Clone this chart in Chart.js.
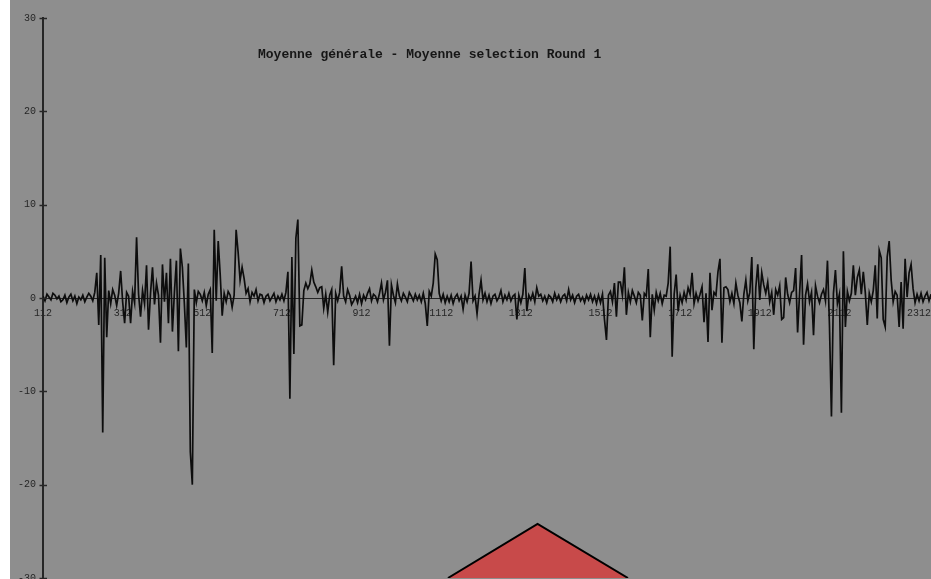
<!DOCTYPE html>
<html>
<head>
<meta charset="utf-8">
<script src="https://cdn.jsdelivr.net/npm/chart.js@4.4.1/dist/chart.umd.min.js"></script>
<style>
  html, body { margin: 0; padding: 0; background: #ffffff; }
  #wrap { width: 931px; height: 579px; }
</style>
</head>
<body>
<div id="wrap"><canvas id="c" width="931" height="579"></canvas></div>
<script>
// Run indices: first sample and spacing between plotted samples
const firstIndex = 112;
const indexStep = 5;

// Difference "Moyenne générale - Moyenne selection", one value per sample
const meanDiff = [
  0.2, -0.3, 0.4, 0.1, -0.2, 0.5, 0.3, -0.1, 0.2, -0.4,
  -0.2, 0.3, -0.5, 0.1, 0.4, -0.3, 0.2, -0.6, 0.1, -0.2,
  0.3, -0.4, 0.1, 0.5, 0.2, -0.3, 0.6, 2.7, -2.9, 4.6,
  -14.4, 4.3, -4.2, 0.8, -0.6, 0.9, 0.3, -0.8, 0.5, 2.9,
  -0.4, -2.7, 0.6, 0.2, -2.7, 0.7, -0.5, 6.5, 0.4, -2.0,
  0.8, -0.6, 3.5, -3.4, 0.5, 3.3, -0.7, 1.6, 0.3, -4.8,
  3.6, -0.4, 2.7, -2.7, 4.2, -3.6, 0.6, 4.0, -5.7, 5.3,
  3.3, -0.6, -5.3, 3.7, -16.5, -20.0, 0.9, -0.5, 0.7, 0.4,
  -0.3, 0.6, -0.8, 0.4, 0.9, -5.9, 7.3, -0.3, 6.1, 2.5,
  -1.9, 0.5, -0.4, 0.7, 0.3, -1.0, 0.3, 7.3, 4.9, 1.9,
  3.3, 2.1, 0.5, 1.0, -0.4, 0.6, 0.2, 0.9, -0.3, 0.4,
  0.3, -0.5, 0.2, 0.4, -0.3, 0.1, 0.5, -0.4, 0.2, -0.2,
  0.4, -0.3, 0.6, 2.8, -10.8, 4.4, -6.0, 6.4, 8.4, -3.0,
  -2.9, 0.8, 1.6, 1.0, 1.5, 3.0, 1.7, 1.2, 0.6, 1.1,
  1.2, -1.1, 0.4, -1.5, 0.3, 0.9, -7.2, 0.5, -0.3, 0.6,
  3.4, 0.2, -0.4, 0.9, 0.3, -0.7, -0.3, 0.2, -0.5, 0.4,
  -0.6, 0.3, -0.2, 0.5, 1.0, -0.3, 0.4, 0.2, -0.4, 0.5,
  1.6, -0.2, 0.6, 1.9, -5.1, 1.4, 0.3, -0.5, 1.5, 0.2,
  -0.3, 0.5, 0.1, -0.4, 0.6, 0.2, -0.3, 0.4, -0.2, 0.3,
  -0.4, 0.5, -0.6, -3.0, 0.7, 0.2, 1.6, 4.7, 4.1, 0.5,
  -0.3, 0.4, -0.5, 0.2, -0.4, 0.3, -0.6, 0.1, 0.4, -0.3,
  0.2, -1.2, 0.3, -0.4, 0.5, 3.9, -0.3, 0.2, -1.7, 0.4,
  1.9, -0.2, 0.5, -0.4, 0.3, -0.6, 0.2, 0.4, -0.3, 0.1,
  0.8, -0.4, 0.3, -0.2, 0.5, -0.3, 0.2, 0.4, -2.3, 0.3,
  -0.5, 0.4, 3.2, -1.4, 0.3, -0.2, 0.5, -0.4, 1.1, 0.2,
  0.4, -0.3, 0.2, -0.5, 0.3, 0.1, -0.4, 0.5, -0.2, 0.3,
  -0.4, 0.2, 0.4, -0.3, 0.9, -0.2, 0.3, -0.5, 0.2, 0.4,
  -0.3, 0.1, -0.5, 0.3, -0.2, 0.4, -0.4, 0.2, -0.6, 0.3,
  -0.5, 0.4, -2.3, -4.5, 0.3, 0.7, -0.4, 1.6, -2.0, 1.7,
  1.7, 0.3, 3.3, -1.8, 0.6, -0.4, 0.8, 0.2, -0.5, 0.6,
  0.3, -2.4, 0.5, 0.2, 3.1, -4.2, 0.4, -1.3, 0.6, -0.3,
  0.5, -0.6, 0.3, 0.2, 1.6, 5.5, -6.3, 0.4, 2.5, -1.4,
  0.3, -0.5, 0.6, -0.2, 1.1, 0.4, 2.7, -0.6, 0.5, -0.3,
  0.4, 1.2, -2.6, 0.5, -4.7, 2.7, -1.3, 0.6, 0.3, 2.8,
  4.2, -4.8, 1.1, 1.2, 0.9, -0.4, 0.5, -0.6, 1.6, 0.3,
  -0.5, -2.5, 0.4, 1.9, -0.3, 0.6, 4.4, -5.5, 1.1, 3.6,
  -0.2, 2.7, 1.4, 0.5, 1.7, -0.4, 0.6, -1.8, 0.9, 0.3,
  1.3, -2.3, -2.1, 2.2, 0.4, -0.5, 0.6, 0.8, 3.2, -3.7,
  0.5, 4.6, -5.0, 0.3, 1.5, -0.4, 0.6, -4.0, 1.3, 0.2,
  -0.5, 0.4, 0.9, -0.3, 4.0, -2.9, -12.7, 0.5, 3.0, -0.6,
  0.4, -12.3, 5.0, -3.1, 0.7, -0.3, 0.5, 3.5, 0.3, 2.2,
  3.0, 0.4, 2.8, 0.6, -2.9, 0.5, -0.4, 0.8, 3.5, -2.2,
  5.1, 4.3, -2.3, -3.1, 4.4, 6.1, 1.9, -0.4, 0.7, 0.3,
  -3.1, 1.7, -3.3, 4.2, 0.1, 2.7, 3.6, 1.0, -0.5, 0.4,
  -0.3, 0.5, -0.4, 0.2, 0.6, -0.3, 0.4
];

// Marker shape drawn below the series (run index, value)
const markerX = [1129, 1354, 1581];
const markerY = [-30, -24.2, -30];

// Axis ticks
const xTickValues = [112, 312, 512, 712, 912, 1112, 1312, 1512, 1712, 1912, 2112, 2312];
const yTickValues = [-30, -20, -10, 0, 10, 20, 30];

const titleText = 'Moyenne générale - Moyenne selection Round 1';

const seriesPoints = meanDiff.map((v, i) => ({ x: firstIndex + i * indexStep, y: v }));
const markerPoints = markerX.map((x, i) => ({ x: x, y: markerY[i] }));

const GRAY = 'rgb(142,142,142)';
const INK = '#262626';
const monoFont = { family: "'Liberation Mono', 'DejaVu Sans Mono', monospace", size: 10 };

// Page background: white margin strip, gray plotting panel
const panelBackground = {
  id: 'panelBackground',
  beforeDraw(chart) {
    const ctx = chart.ctx;
    ctx.save();
    ctx.fillStyle = '#ffffff';
    ctx.fillRect(0, 0, chart.width, chart.height);
    ctx.fillStyle = GRAY;
    ctx.fillRect(10, 0, chart.width - 10, chart.height);
    ctx.restore();
  }
};

// Tick marks crossing the vertical axis, and the caption
const axisDecor = {
  id: 'axisDecor',
  afterDraw(chart) {
    const ctx = chart.ctx;
    const ys = chart.scales.y;
    const x0 = chart.chartArea.left;
    ctx.save();
    ctx.strokeStyle = INK;
    ctx.lineWidth = 1.5;
    ys.ticks.forEach(t => {
      const py = Math.round(ys.getPixelForValue(t.value)) + 0.5;
      ctx.beginPath();
      ctx.moveTo(x0 - 3.5, py);
      ctx.lineTo(x0 + 4, py);
      ctx.stroke();
    });
    ctx.fillStyle = '#161616';
    ctx.font = "bold 13px 'Liberation Mono', 'DejaVu Sans Mono', monospace";
    ctx.textAlign = 'left';
    ctx.textBaseline = 'alphabetic';
    ctx.fillText(titleText, 258, 58);
    ctx.restore();
  }
};

new Chart(document.getElementById('c'), {
  type: 'line',
  data: {
    datasets: [
      {
        label: 'marker',
        data: markerPoints,
        borderColor: '#000000',
        borderWidth: 2,
        backgroundColor: 'rgb(200,74,74)',
        fill: 'start',
        pointRadius: 0,
        tension: 0,
        order: 2
      },
      {
        label: titleText,
        data: seriesPoints,
        borderColor: '#0d0d0d',
        borderWidth: 1.7,
        pointRadius: 0,
        fill: false,
        tension: 0,
        order: 1
      }
    ]
  },
  options: {
    responsive: false,
    animation: false,
    events: [],
    layout: { padding: { left: 10, top: 18, right: 0, bottom: 1 } },
    plugins: {
      legend: { display: false },
      title: { display: false },
      tooltip: { enabled: false }
    },
    scales: {
      x: {
        type: 'linear',
        min: 112,
        max: 2342,
        position: { y: 0 },
        grid: { display: false, drawTicks: false },
        border: { display: true, color: INK, width: 1 },
        afterBuildTicks(scale) {
          scale.ticks = xTickValues.map(v => ({ value: v }));
        },
        afterFit(scale) {
          scale.paddingLeft = 0;
          scale.paddingRight = 0;
        },
        ticks: {
          autoSkip: false,
          maxRotation: 0,
          padding: 9,
          color: INK,
          font: monoFont,
          callback: v => String(v)
        }
      },
      y: {
        type: 'linear',
        min: -30,
        max: 30,
        grid: { display: false, drawTicks: false },
        border: { display: true, color: INK, width: 2 },
        afterBuildTicks(scale) {
          scale.ticks = yTickValues.map(v => ({ value: v }));
        },
        afterFit(scale) {
          scale.width = 33;
          scale.paddingTop = 0;
          scale.paddingBottom = 0;
        },
        ticks: {
          padding: 7,
          color: INK,
          font: monoFont,
          callback: v => String(v)
        }
      }
    }
  },
  plugins: [panelBackground, axisDecor]
});
</script>
</body>
</html>
